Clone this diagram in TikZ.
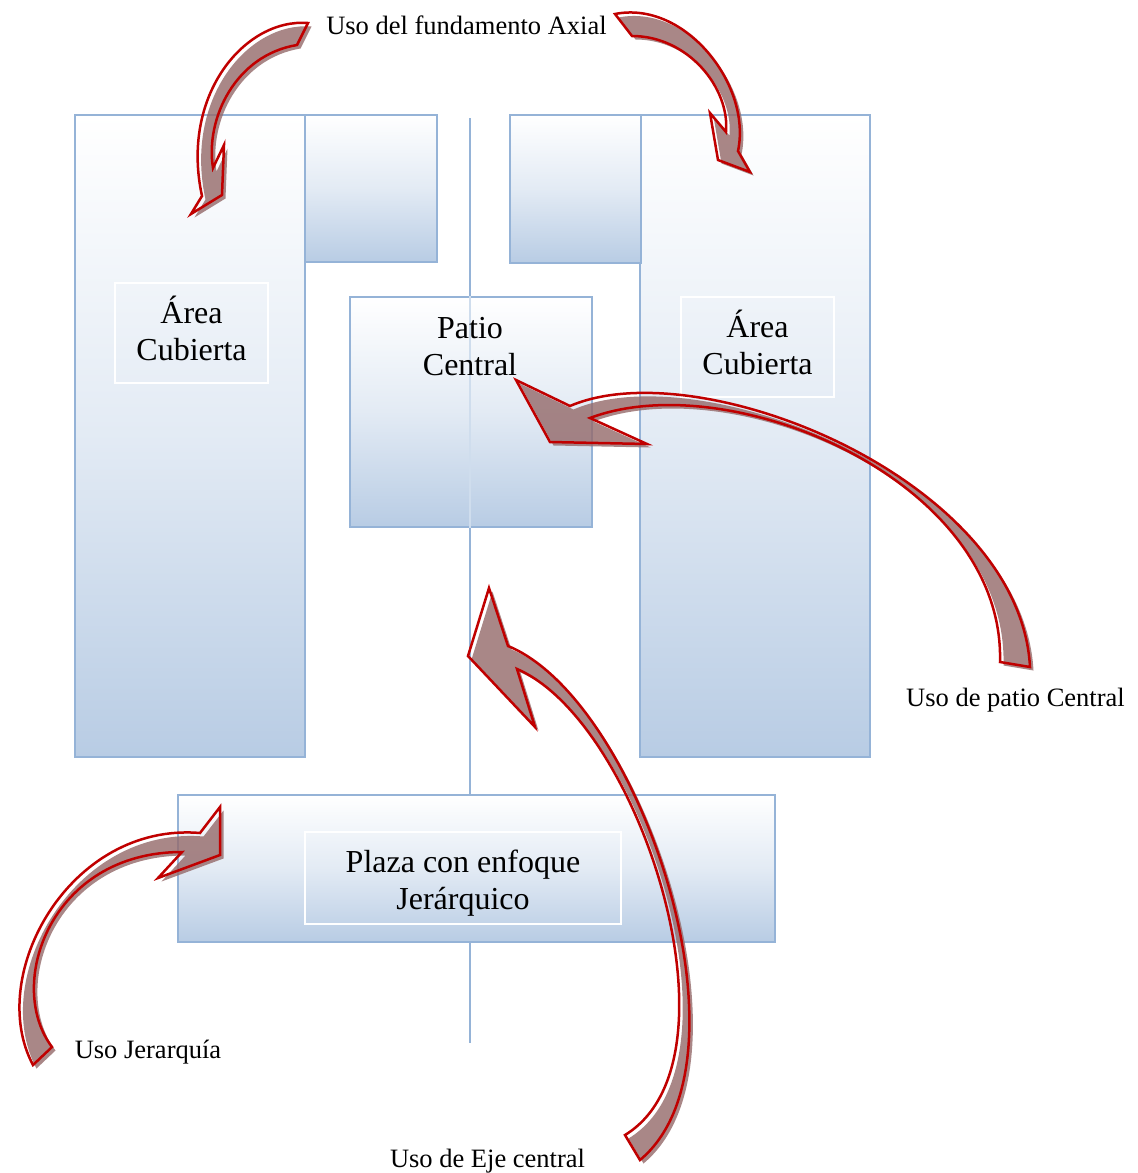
\documentclass[tikz,border=0pt]{standalone}
\usepackage{fontspec}
\setmainfont{Liberation Serif}
\usepackage{tikz}
\definecolor{axis-blue}{RGB}{149,179,215}
\definecolor{wing-blue}{RGB}{184,204,228}
\definecolor{arrow-red}{RGB}{192,0,0}
\definecolor{arrow-brown}{RGB}{148,105,105}

% curved block arrow: shadow first, then the red outline
\newcommand{\blockarrow}[1]{%
  \fill[arrow-brown, fill opacity=0.8, shift={(3.5,3.5)}] #1;
  \draw[arrow-red, line width=2.5pt, line join=miter] #1;
}

\begin{document}
\begin{tikzpicture}[x=1pt, y=-1pt,
    wing/.style={rectangle, draw=axis-blue, line width=2pt, inner sep=0pt, top color=white, bottom color=wing-blue, middle color=white!60!wing-blue},
    frame/.style={rectangle, draw=white, line width=1.5pt},
    boxtext/.style={align=center, font=\fontsize{32}{37}\selectfont},
    lbl/.style={anchor=base, inner sep=0pt, font=\fontsize{26.5}{30}\selectfont}]

    \useasboundingbox (0,0) rectangle (1138,1173);

    % Central axis
    \coordinate (axistop) at (469.5,118);
    \coordinate (axisbot) at (469.5,1043);
    \draw[axis-blue, line width=2pt] (axistop) -- (axisbot);

    % Boxes
    \node[wing, minimum width=230pt, minimum height=642pt] (leftwing) at (190,436) {};
    \node[wing, minimum width=230pt, minimum height=642pt] (rightwing) at (755,436) {};
    \node[wing, minimum width=132pt, minimum height=147pt] (leftsmall) at (371,188.5) {};
    \node[wing, minimum width=131pt, minimum height=148pt] (rightsmall) at (575.5,189) {};
    \node[wing, minimum width=242pt, minimum height=230pt] (patio) at (471,412) {};
    \node[wing, minimum width=597pt, minimum height=147pt] (plaza) at (476.5,868.5) {};
    \draw[axis-blue!45, line width=2pt] (patio.north -| axistop) -- (patio.south -| axistop);

    % Texts in the boxes
    \node[frame, minimum width=153pt, minimum height=100pt] (leftframe) at (191.5,333) {};
    \node[frame, minimum width=153pt, minimum height=100pt] (rightframe) at (757.5,347) {};
    \node[frame, minimum width=316pt, minimum height=92pt] (plazaframe) at (463,878) {};
    \node[boxtext] (leftarea) at (191.5,328.5) {Área\\Cubierta};
    \node[boxtext] (rightarea) at (757.5,342.5) {Área\\Cubierta};
    \node[boxtext] (patiotext) at (470,347) {Patio\\Central};
    \node[boxtext] (plazatext) at (463,883.5) {Plaza con enfoque\\Jerárquico};

    % Curved arrows
    \blockarrow{(308,23) .. controls (245,18) and (180,95) .. (202,196) -- (191,214) -- (222,195) -- (224,145) -- (213,168) .. controls (205,118) and (236,55) .. (297,45) -- cycle}
    \blockarrow{(615,14) .. controls (685,0) and (752,85) .. (738,151) -- (750,172) -- (718,160) -- (710,113) -- (726,132) .. controls (730,88) and (688,36) .. (632,36) -- cycle}
    \blockarrow{(516,380) -- (570,406) .. controls (700,350) and (1020,480) .. (1030,667) -- (1000,662) .. controls (1005,480) and (730,365) .. (590,418) -- (647,444) -- (550,442) -- cycle}
    \blockarrow{(489,588) -- (508,646) .. controls (640,700) and (760,1060) .. (640,1160) -- (625,1135) .. controls (748,1060) and (640,722) .. (517,669) -- (535,727) -- (468,656) -- cycle}
    \blockarrow{(200,833) -- (220,807) -- (220,855) -- (158,878) -- (182,852) .. controls (50,852) and (5,985) .. (52,1047) -- (33,1065) .. controls (-15,975) and (70,822) .. (200,833) -- cycle}

    % Labels
    \node[lbl] (axial) at (466.5,34) {Uso del fundamento Axial};
    \node[lbl] (patiouse) at (1015.5,706) {Uso de patio Central};
    \node[lbl] (hierarchy) at (148,1058) {Uso Jerarquía};
    \node[lbl] (axisuse) at (487.5,1167) {Uso de Eje central};
\end{tikzpicture}
\end{document}
